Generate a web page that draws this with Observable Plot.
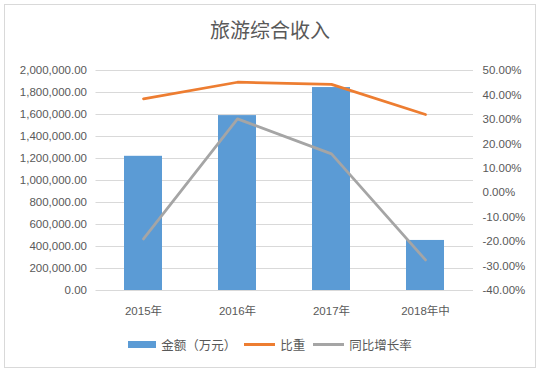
<!DOCTYPE html>
<html><head><meta charset="utf-8">
<script src="https://cdn.jsdelivr.net/npm/d3@7"></script>
<script src="https://cdn.jsdelivr.net/npm/@observablehq/plot@0.6"></script>
<style>
body{margin:0;background:#fff;font-family:"Liberation Sans","Noto Sans CJK SC",sans-serif;width:540px;height:375px;position:relative;overflow:hidden;}
#frame{position:absolute;left:4px;top:4px;width:532px;height:364px;box-sizing:border-box;border:1px solid #d9d9d9;}
#title{position:absolute;left:0;top:17px;width:540px;text-align:center;font-size:20px;color:#595959;line-height:26px;font-family:"Noto Sans CJK SC",sans-serif;}
#chart{position:absolute;left:0;top:55px;}
#legend{position:absolute;left:0;top:334px;width:540px;height:20px;display:flex;justify-content:center;align-items:center;font-size:12.5px;color:#595959;font-family:"Noto Sans CJK SC",sans-serif;}
.sw{display:inline-block;margin-right:5px;}
.item{display:flex;align-items:center;margin:0 4px;}
</style>
</head><body>
<div id="frame"></div>
<div id="title">旅游综合收入</div>
<div id="chart"></div>
<div id="legend"></div>
<script>
const categories = ["2015年", "2016年", "2017年", "2018年中"];
const amounts = [1220000, 1590000, 1845000, 455000];
const shares = [38.4, 45.2, 44.3, 32.0];
const growth = [-18.9, 30.2, 15.9, -27.5];
const leftTicks = [0, 200000, 400000, 600000, 800000, 1000000, 1200000, 1400000, 1600000, 1800000, 2000000];
const rightTicks = [-40, -30, -20, -10, 0, 10, 20, 30, 40, 50];
const seriesNames = ["金额（万元）", "比重", "同比增长率"];
const colors = ["#5B9BD5", "#ED7D31", "#A5A5A5"];

const LMAX = 2000000, RMIN = -40, RMAX = 50;
const toLeft = p => (p - RMIN) / (RMAX - RMIN) * LMAX;
const fromLeft = v => v / LMAX * (RMAX - RMIN) + RMIN;

const table = categories.map((c, i) => ({cat: c, amount: amounts[i], share: shares[i], growth: growth[i]}));

const chart = Plot.plot({
  width: 540, height: 270,
  marginLeft: 95.5, marginRight: 67, marginTop: 15, marginBottom: 35,
  style: {fontFamily: '"Liberation Sans","Noto Sans CJK SC",sans-serif', fontSize: "11.5px", color: "#595959", background: "transparent"},
  x: {domain: categories, paddingInner: 0.6, paddingOuter: 0.3, label: null},
  y: {domain: [0, LMAX], label: null},
  marks: [
    Plot.gridY(leftTicks, {stroke: "#d9d9d9", strokeOpacity: 1}),
    Plot.barY(table, {x: "cat", y: "amount", fill: colors[0]}),
    Plot.line(table, {x: "cat", y: d => toLeft(d.share), stroke: colors[1], strokeWidth: 2.75}),
    Plot.line(table, {x: "cat", y: d => toLeft(d.growth), stroke: colors[2], strokeWidth: 2.75}),
    Plot.axisY(leftTicks, {anchor: "left", tickSize: 0, tickPadding: 9, tickFormat: d3.format(",.2f"), label: null}),
    Plot.axisY(rightTicks.map(toLeft), {anchor: "right", tickSize: 0, tickPadding: 9, tickFormat: v => Math.round(fromLeft(v)).toFixed(2) + "%", label: null}),
    Plot.axisX({tickSize: 0, tickPadding: 16, label: null})
  ]
});
document.getElementById("chart").appendChild(chart);

const legend = document.getElementById("legend");
seriesNames.forEach((name, i) => {
  const item = document.createElement("span");
  item.className = "item";
  const sw = document.createElement("span");
  sw.className = "sw";
  if (i === 0) { sw.style.width = "28px"; sw.style.height = "7px"; }
  else { sw.style.width = "31px"; sw.style.height = "3px"; }
  sw.style.background = colors[i];
  item.appendChild(sw);
  const t = document.createElement("span");
  t.textContent = name;
  item.appendChild(t);
  legend.appendChild(item);
});
</script>
</body></html>
